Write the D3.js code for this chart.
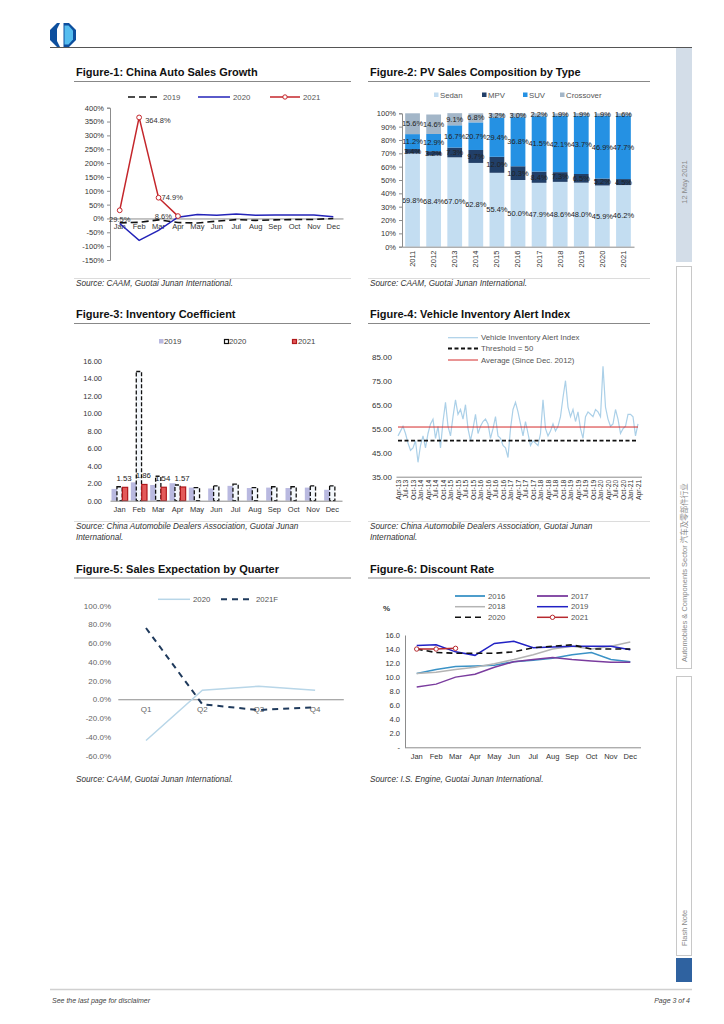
<!DOCTYPE html>
<html>
<head>
<meta charset="utf-8">
<script src="https://cdn.jsdelivr.net/npm/d3@7"></script>
<style>
    body { margin: 0; background: #fff; }
    svg { font-family: "Liberation Sans", Arial, sans-serif; }
    .axis path, .axis line { stroke: #8c8c8c; }
    .axis text { fill: #333; font-size: 7.5px; }
</style>
</head>
<body>
<svg id="page" width="724" height="1024"></svg>
<script>
const months = ['Jan', 'Feb', 'Mar', 'Apr', 'May', 'Jun', 'Jul', 'Aug', 'Sep', 'Oct', 'Nov', 'Dec'];

// Figure-1 (yoy %)
const growthTicks = [400, 350, 300, 250, 200, 150, 100, 50, 0, -50, -100, -150];
const growth2019 = [-15.8, -13.8, -5.2, -14.6, -16.4, -9.6, -4.3, -6.9, -5.2, -4.0, -3.6, 0.1];
const growth2020 = [-18.0, -79.1, -43.3, 4.4, 14.5, 11.6, 16.4, 11.6, 12.8, 12.5, 12.6, 6.4];
const growth2021 = [29.5, 364.8, 74.9, 8.6];

// Figure-2 (share %)
const years = ['2011', '2012', '2013', '2014', '2015', '2016', '2017', '2018', '2019', '2020', '2021'];
const sedanShare = [69.8, 68.4, 67.0, 62.8, 55.4, 50.0, 47.9, 48.6, 48.0, 45.9, 46.2];
const mpvShare = [3.4, 3.2, 7.3, 9.7, 12.0, 10.3, 8.4, 7.3, 6.5, 5.2, 4.5];
const suvShare = [11.2, 12.9, 16.7, 20.7, 29.4, 36.8, 41.5, 42.1, 43.7, 46.9, 47.7];
const crossoverShare = [15.6, 14.6, 9.1, 6.8, 3.2, 3.0, 2.2, 1.9, 1.9, 1.9, 1.6];
const shareTicks = [0, 10, 20, 30, 40, 50, 60, 70, 80, 90, 100];

// Figure-3
const invTicks = [0, 2, 4, 6, 8, 10, 12, 14, 16];
const inv2019 = [1.35, 2.10, 1.80, 2.00, 1.50, 1.40, 1.70, 1.45, 1.50, 1.45, 1.50, 1.25];
const inv2020 = [1.60, 14.80, 2.80, 1.80, 1.50, 1.70, 1.90, 1.50, 1.60, 1.60, 1.70, 1.70];
const inv2021 = [1.53, 1.86, 1.54, 1.57];

// Figure-4 (monthly, Apr-13 .. Apr-21)
const viaTicks = ['Apr-13', 'Jul-13', 'Oct-13', 'Jan-14', 'Apr-14', 'Jul-14', 'Oct-14', 'Jan-15', 'Apr-15', 'Jul-15', 'Oct-15',
    'Jan-16', 'Apr-16', 'Jul-16', 'Oct-16', 'Jan-17', 'Apr-17', 'Jul-17', 'Oct-17', 'Jan-18', 'Apr-18', 'Jul-18', 'Oct-18',
    'Jan-19', 'Apr-19', 'Jul-19', 'Oct-19', 'Jan-20', 'Apr-20', 'Jul-20', 'Oct-20', 'Jan-21', 'Apr-21'];
const viaIndex = [52, 54, 56, 53, 49, 46, 47, 50, 41, 48, 52, 47, 53, 57, 59, 51, 56, 47, 58, 66, 56, 52, 60, 67, 61,
    63, 59, 65, 55, 50, 55, 61, 53, 56, 58, 59, 57, 51, 55, 60, 52, 51, 48, 47, 43, 55, 63, 66, 62, 57, 52, 58, 53, 48,
    50, 49, 48, 53, 67, 55, 52, 54, 57, 54, 56, 60, 68, 75, 64, 60, 63, 58, 62, 55, 51, 60, 62, 61, 60, 63, 62, 60, 81,
    64, 59, 56, 57, 63, 59, 53, 55, 56, 61, 61, 60, 52, 57];
const viaThreshold = 50;
const viaAverage = 55.7;
const viaYTicks = [35, 45, 55, 65, 75, 85];

// Figure-5
const quarters = ['Q1', 'Q2', 'Q3', 'Q4'];
const exp2020 = [-44, 9.6, 13.9, 9.6];
const exp2021F = [76, -5.4, -11.5, -8.5];
const expTicks = [100, 80, 60, 40, 20, 0, -20, -40, -60];

// Figure-6
const disc2016 = [10.5, 11.1, 11.5, 11.6, 11.7, 12.2, 12.4, 12.7, 13.2, 13.5, 12.5, 12.2];
const disc2017 = [8.6, 9.0, 10.0, 10.4, 11.4, 12.2, 12.5, 12.8, 12.5, 12.3, 12.1, 12.1];
const disc2018 = [10.5, 10.7, 11.1, 11.4, 11.9, 12.5, 13.2, 14.0, 14.4, 14.0, 14.4, 15.0];
const disc2019 = [14.5, 14.6, 13.6, 13.1, 14.8, 15.1, 14.2, 14.3, 14.4, 14.4, 14.4, 13.9];
const disc2020 = [14.0, 13.5, 13.4, 13.4, 13.4, 13.6, 14.2, 14.4, 14.6, 14.0, 14.0, 14.0];
const disc2021 = [14.0, 14.0, 14.1];
const discTicks = [0, 2, 4, 6, 8, 10, 12, 14, 16];

const svg = d3.select('#page');

//#region page frame
const logo = svg.append('g').attr('transform', 'translate(50,23)');
logo.append('path').attr('d', 'M7,0 L19,0 L26,7 L26,17 L19,24 L7,24 L0,17 L0,7 Z').attr('fill', '#0d4f9e');
logo.append('path').attr('d', 'M10,0 L13.5,0 L13.5,24 L10,24 L7,18 L7,6 Z').attr('fill', '#fff');
logo.append('path').attr('d', 'M14.5,2.5 L18.5,2.5 L23,7.5 L23,16.5 L18.5,21.5 L14.5,21.5 Z').attr('fill', '#56bdef');

svg.append('line').attr('x1', 50).attr('x2', 692).attr('y1', 47.5).attr('y2', 47.5)
    .attr('stroke', '#555').attr('stroke-width', 1);

const side = svg.append('g');
side.append('rect').attr('x', 676).attr('y', 48).attr('width', 16).attr('height', 214).attr('fill', '#d3dde8');
side.append('rect').attr('x', 676.5).attr('y', 266.5).attr('width', 15).attr('height', 402)
    .attr('fill', '#fff').attr('stroke', '#c8c8c8');
side.append('rect').attr('x', 676.5).attr('y', 676.5).attr('width', 15).attr('height', 279)
    .attr('fill', '#fff').attr('stroke', '#c8c8c8');
side.append('rect').attr('x', 676).attr('y', 958).attr('width', 16).attr('height', 24).attr('fill', '#2f62a0');
side.append('text').attr('transform', 'translate(687,182) rotate(-90)')
    .attr('text-anchor', 'middle').attr('font-size', 7.5).attr('fill', '#8a8a8a').text('12 May 2021');
side.append('text').attr('transform', 'translate(687,662) rotate(-90)')
    .attr('font-size', 7.5).attr('fill', '#8a8a8a')
    .html('Automobiles &amp; Components Sector <tspan font-family="Noto Sans CJK SC">汽车及零部件行业</tspan>');
side.append('text').attr('transform', 'translate(687,946) rotate(-90)')
    .attr('font-size', 7.5).attr('fill', '#8a8a8a').text('Flash Note');

svg.append('line').attr('x1', 50).attr('x2', 692).attr('y1', 989.5).attr('y2', 989.5)
    .attr('stroke', '#d0d0d0').attr('stroke-width', 1.5);
svg.append('text').attr('x', 52).attr('y', 1003).attr('font-size', 7).attr('font-style', 'italic')
    .attr('fill', '#444').text('See the last page for disclaimer');
svg.append('text').attr('x', 690).attr('y', 1003).attr('font-size', 7).attr('font-style', 'italic')
    .attr('text-anchor', 'end').attr('fill', '#444').text('Page 3 of 4');
//#endregion

function panelTitle(x, y, w, label) {
    svg.append('text').attr('x', x).attr('y', y).attr('font-size', 11).attr('font-weight', 'bold')
        .attr('fill', '#111').text(label);
    svg.append('line').attr('x1', x - 2).attr('x2', x - 2 + w).attr('y1', y + 5.5).attr('y2', y + 5.5)
        .attr('stroke', '#6a6a6a').attr('stroke-width', 0.8);
}

function panelSource(x, y, w, lines, rule) {
    if (rule) {
        svg.append('line').attr('x1', x - 2).attr('x2', x - 2 + w).attr('y1', y - 7.5).attr('y2', y - 7.5)
            .attr('stroke', '#dcdcdc').attr('stroke-width', 1);
    }
    lines.forEach((l, i) => {
        svg.append('text').attr('x', x).attr('y', y + i * 10.5).attr('font-size', 8.2)
            .attr('font-style', 'italic').attr('fill', '#333').text(l);
    });
}

function legendLine(g, x, y, len, color, dash, width, label, marker) {
    g.append('line').attr('x1', x).attr('x2', x + len).attr('y1', y).attr('y2', y)
        .attr('stroke', color).attr('stroke-width', width).attr('stroke-dasharray', dash);
    if (marker) {
        g.append('circle').attr('cx', x + len / 2).attr('cy', y).attr('r', 2.2)
            .attr('fill', '#fff').attr('stroke', color).attr('stroke-width', 1);
    }
    g.append('text').attr('x', x + len + 3).attr('y', y).attr('dy', '0.33em')
        .attr('font-size', 7.8).attr('fill', '#555').text(label);
}

//#region Figure-1
(function () {
    panelTitle(76, 76, 277, 'Figure-1: China Auto Sales Growth');
    const g = svg.append('g');
    const x = d3.scaleBand().domain(months).range([110, 343]);
    const y = d3.scaleLinear().domain([-150, 400]).range([260, 107.7]);
    const cx = i => x(months[i]) + x.bandwidth() / 2;

    g.append('g').classed('axis', true).attr('transform', 'translate(110,0)')
        .call(d3.axisLeft(y).tickValues(growthTicks).tickFormat(d => d + '%').tickSize(3).tickPadding(3));
    g.append('g').classed('axis', true).attr('transform', `translate(0,${y(0)})`)
        .call(d3.axisBottom(x).tickSize(0).tickPadding(5));

    const line = d3.line().x((d, i) => cx(i)).y(d => y(d));
    g.append('path').attr('d', line(growth2019)).attr('fill', 'none').attr('stroke', '#111')
        .attr('stroke-width', 1.6).attr('stroke-dasharray', '7,4');
    g.append('path').attr('d', line(growth2020)).attr('fill', 'none').attr('stroke', '#2323b8')
        .attr('stroke-width', 1.5);
    g.append('path').attr('d', line(growth2021)).attr('fill', 'none').attr('stroke', '#c4262b')
        .attr('stroke-width', 1.5);
    g.selectAll('.pt').data(growth2021).enter().append('circle')
        .attr('cx', (d, i) => cx(i)).attr('cy', d => y(d)).attr('r', 2.4)
        .attr('fill', '#fff').attr('stroke', '#c4262b').attr('stroke-width', 1);

    const lblOffset = [[0, 9], [6, 3], [3, 0], [-6, 0]];
    const lblAnchor = ['middle', 'start', 'start', 'end'];
    g.selectAll('.lbl').data(growth2021).enter().append('text')
        .attr('x', (d, i) => cx(i) + lblOffset[i][0]).attr('y', (d, i) => y(d) + lblOffset[i][1])
        .attr('dy', '0.33em').attr('text-anchor', (d, i) => lblAnchor[i])
        .attr('font-size', 7.5).attr('fill', '#333').text(d => d.toFixed(1) + '%');

    legendLine(g, 128, 97, 32, '#111', '7,4', 1.6, '2019');
    legendLine(g, 198, 97, 32, '#2323b8', null, 1.5, '2020');
    legendLine(g, 270, 97, 30, '#c4262b', null, 1.5, '2021', true);

    panelSource(76, 286, 277, ['Source: CAAM, Guotai Junan International.'], true);
})();
//#endregion

//#region Figure-2
(function () {
    panelTitle(370, 76, 282, 'Figure-2: PV Sales Composition by Type');
    const g = svg.append('g');
    const keys = ['Sedan', 'MPV', 'SUV', 'Crossover'];
    const colors = { Sedan: '#c3ddf1', MPV: '#213f68', SUV: '#2591e3', Crossover: '#a3b6c8' };
    const rows = years.map((yr, i) => ({
        year: yr, Sedan: sedanShare[i], MPV: mpvShare[i], SUV: suvShare[i], Crossover: crossoverShare[i]
    }));
    const series = d3.stack().keys(keys)(rows);

    const x = d3.scaleBand().domain(years).range([402, 634]).paddingInner(0.3).paddingOuter(0.15);
    const y = d3.scaleLinear().domain([0, 100]).range([246.7, 113.3]);

    const layer = g.selectAll('.layer').data(series).enter().append('g').attr('fill', d => colors[d.key]);
    layer.selectAll('rect').data(d => d).enter().append('rect')
        .attr('x', d => x(d.data.year)).attr('width', x.bandwidth())
        .attr('y', d => y(d[1])).attr('height', d => y(d[0]) - y(d[1]));
    g.selectAll('.layerLbl').data(series).enter().append('g')
        .selectAll('text').data(d => d).enter().append('text')
        .attr('x', d => x(d.data.year) + x.bandwidth() / 2).attr('y', d => y((d[0] + d[1]) / 2))
        .attr('dy', '0.33em').attr('text-anchor', 'middle').attr('font-size', 7.5).attr('fill', '#222')
        .text(d => (d[1] - d[0]).toFixed(1) + '%');

    g.append('g').classed('axis', true).attr('transform', 'translate(402,0)')
        .call(d3.axisLeft(y).tickValues(shareTicks).tickFormat(d => d + '%').tickSize(3).tickPadding(3));
    const xa = g.append('g').classed('axis', true).attr('transform', `translate(0,${y(0)})`)
        .call(d3.axisBottom(x).tickSize(0));
    xa.selectAll('text').attr('transform', 'rotate(-90)').attr('x', -4).attr('y', 0)
        .attr('dy', '0.33em').style('text-anchor', 'end');

    const lx = [434, 482, 523, 560];
    keys.forEach((k, i) => {
        g.append('rect').attr('x', lx[i]).attr('y', 92.5).attr('width', 4.5).attr('height', 4.5).attr('fill', colors[k]);
        g.append('text').attr('x', lx[i] + 6).attr('y', 95).attr('dy', '0.33em').attr('font-size', 7.8)
            .attr('fill', '#555').text(k);
    });

    panelSource(370, 286, 282, ['Source: CAAM, Guotai Junan International.'], true);
})();
//#endregion

//#region Figure-3
(function () {
    panelTitle(76, 318, 277, 'Figure-3: Inventory Coefficient');
    const g = svg.append('g');
    const x = d3.scaleBand().domain(months).range([110, 342]);
    const sub = d3.scaleBand().domain(['2019', '2020', '2021']).range([1.5, x.bandwidth() - 1.5]);
    const y = d3.scaleLinear().domain([0, 16]).range([500.7, 361]);
    const bw = sub.bandwidth() * 1.15;

    g.append('g').classed('axis', true).attr('transform', 'translate(110,0)')
        .call(d3.axisLeft(y).tickValues(invTicks).tickFormat(d3.format('.2f')).tickSize(0).tickPadding(8))
        .select('.domain').remove();

    g.selectAll('.b19').data(inv2019).enter().append('rect')
        .attr('x', (d, i) => x(months[i]) + sub('2019')).attr('width', bw)
        .attr('y', d => y(d)).attr('height', d => y(0) - y(d)).attr('fill', '#b9b9e0');
    g.selectAll('.b20').data(inv2020).enter().append('rect')
        .attr('x', (d, i) => x(months[i]) + sub('2020')).attr('width', bw - 1)
        .attr('y', d => y(d)).attr('height', d => y(0) - y(d))
        .attr('fill', '#f4f8fc').attr('stroke', '#111').attr('stroke-width', 1.3).attr('stroke-dasharray', '4,2');
    g.selectAll('.b21').data(inv2021).enter().append('rect')
        .attr('x', (d, i) => x(months[i]) + sub('2021')).attr('width', bw - 1)
        .attr('y', d => y(d)).attr('height', d => y(0) - y(d))
        .attr('fill', '#e35a5a').attr('stroke', '#b0191c').attr('stroke-width', 1.2);
    g.selectAll('.l21').data(inv2021).enter().append('text')
        .attr('x', (d, i) => x(months[i]) + sub('2021') + bw / 2 - 1.5).attr('y', d => y(d) - 6)
        .attr('text-anchor', 'middle').attr('font-size', 7.8).attr('fill', '#222').text(d => d.toFixed(2));

    g.append('g').classed('axis', true).attr('transform', `translate(0,${y(0)})`)
        .call(d3.axisBottom(x).tickSize(0).tickPadding(6));

    g.append('rect').attr('x', 159).attr('y', 339).attr('width', 4.5).attr('height', 4.5).attr('fill', '#b9b9e0');
    g.append('text').attr('x', 164).attr('y', 341.3).attr('dy', '0.33em').attr('font-size', 7.8).attr('fill', '#444').text('2019');
    g.append('rect').attr('x', 224.5).attr('y', 339.5).attr('width', 4).attr('height', 4)
        .attr('fill', '#fff').attr('stroke', '#111').attr('stroke-width', 1.2);
    g.append('text').attr('x', 229).attr('y', 341.3).attr('dy', '0.33em').attr('font-size', 7.8).attr('fill', '#444').text('2020');
    g.append('rect').attr('x', 292.5).attr('y', 339.5).attr('width', 4).attr('height', 4)
        .attr('fill', '#e35a5a').attr('stroke', '#b0191c').attr('stroke-width', 1.2);
    g.append('text').attr('x', 298).attr('y', 341.3).attr('dy', '0.33em').attr('font-size', 7.8).attr('fill', '#444').text('2021');

    panelSource(76, 529, 277, ['Source: China Automobile Dealers Association, Guotai Junan', 'International.'], true);
})();
//#endregion

//#region Figure-4
(function () {
    panelTitle(370, 318, 282, 'Figure-4: Vehicle Inventory Alert Index');
    const g = svg.append('g');
    const x = d3.scalePoint().domain(d3.range(viaIndex.length)).range([398, 638]);
    const y = d3.scaleLinear().domain([35, 85]).range([476.7, 356.7]);

    const ya = g.append('g').classed('axis', true).attr('transform', 'translate(395,0)')
        .call(d3.axisLeft(y).tickValues(viaYTicks).tickFormat(d3.format('.2f')).tickSize(0).tickPadding(3));
    ya.select('.domain').remove();
    ya.selectAll('text').style('font-size', '8px');

    const xa = g.append('g').classed('axis', true).attr('transform', `translate(0,${y(35)})`)
        .call(d3.axisBottom(x).tickValues(viaTicks.map((t, k) => k * 3)).tickFormat(d => viaTicks[d / 3])
            .tickSize(0).tickSizeOuter(0));
    xa.select('.domain').attr('d', 'M396.5,0.5H642');
    xa.selectAll('text').attr('transform', 'rotate(-90)').attr('x', -3).attr('y', 0)
        .attr('dy', '0.33em').style('text-anchor', 'end').style('font-size', '6.8px');

    g.append('path').attr('d', d3.line().x((d, i) => x(i)).y(d => y(d))(viaIndex))
        .attr('fill', 'none').attr('stroke', '#abd0e8').attr('stroke-width', 1.2);
    g.append('line').attr('x1', x(0)).attr('x2', x(viaIndex.length - 1))
        .attr('y1', y(viaAverage)).attr('y2', y(viaAverage)).attr('stroke', '#d42a2a').attr('stroke-width', 1);
    g.append('line').attr('x1', x(0)).attr('x2', x(viaIndex.length - 1))
        .attr('y1', y(viaThreshold)).attr('y2', y(viaThreshold)).attr('stroke', '#111')
        .attr('stroke-width', 1.8).attr('stroke-dasharray', '4,2.5');

    legendLine(g, 448, 337.7, 30, '#abd0e8', null, 1.2, 'Vehicle Inventory Alert Index');
    legendLine(g, 448, 348.5, 30, '#111', '4,2.5', 1.8, 'Threshold = 50');
    legendLine(g, 448, 360, 30, '#d42a2a', null, 1, 'Average (Since Dec. 2012)');

    panelSource(370, 529, 282, ['Source: China Automobile Dealers Association, Guotai Junan', 'International.'], true);
})();
//#endregion

//#region Figure-5
(function () {
    panelTitle(76, 572.5, 277, 'Figure-5: Sales Expectation by Quarter');
    const g = svg.append('g');
    const x = d3.scaleBand().domain(quarters).range([117.8, 343.3]);
    const y = d3.scaleLinear().domain([-60, 100]).range([755.5, 605.5]);
    const cx = i => x(quarters[i]) + x.bandwidth() / 2;

    const ya = g.append('g').classed('axis', true).attr('transform', 'translate(111,0)')
        .call(d3.axisLeft(y).tickValues(expTicks).tickFormat(d => d.toFixed(1) + '%').tickSize(0).tickPadding(0));
    ya.select('.domain').remove();
    ya.selectAll('text').style('font-size', '8px').style('fill', '#666');
    const xa = g.append('g').classed('axis', true).attr('transform', `translate(0,${y(0)})`)
        .call(d3.axisBottom(x).tickSize(0).tickPadding(7).tickSizeOuter(0));
    xa.select('.domain').attr('stroke', '#d9d9d9');
    xa.selectAll('text').style('font-size', '8px').style('fill', '#666');

    const line = d3.line().x((d, i) => cx(i)).y(d => y(d));
    g.append('path').attr('d', line(exp2020)).attr('fill', 'none').attr('stroke', '#b8d6e8').attr('stroke-width', 1.5);
    g.append('path').attr('d', line(exp2021F)).attr('fill', 'none').attr('stroke', '#1f3a5c')
        .attr('stroke-width', 2).attr('stroke-dasharray', '6,5');

    legendLine(g, 158, 599.3, 32, '#b8d6e8', null, 1.5, '2020');
    legendLine(g, 221, 599.3, 32, '#1f3a5c', '6,5', 2, '2021F');

    panelSource(76, 782, 277, ['Source: CAAM, Guotai Junan International.'], false);
})();
//#endregion

//#region Figure-6
(function () {
    panelTitle(370, 572.5, 282, 'Figure-6: Discount Rate');
    const g = svg.append('g');
    const x = d3.scaleBand().domain(months).range([407, 640]);
    const y = d3.scaleLinear().domain([0, 16]).range([747.3, 635]);
    const cx = i => x(months[i]) + x.bandwidth() / 2;

    g.append('g').classed('axis', true).attr('transform', 'translate(405,0)')
        .call(d3.axisLeft(y).tickValues(discTicks).tickFormat(d => d === 0 ? '-' : d.toFixed(1)).tickSize(0).tickPadding(5))
        .select('.domain').attr('stroke', '#d0d0d0');
    const xa = g.append('g').classed('axis', true).attr('transform', `translate(0,${y(0)})`)
        .call(d3.axisBottom(x).tickSize(0).tickPadding(6).tickSizeOuter(0));
    xa.select('.domain').attr('d', 'M405,0.5H641').attr('stroke', '#c8c8c8');

    const line = d3.line().x((d, i) => cx(i)).y(d => y(d));
    const discSeries = [
        { data: disc2016, color: '#3a92c6', dash: null, w: 1.5 },
        { data: disc2017, color: '#7a3c9e', dash: null, w: 1.5 },
        { data: disc2018, color: '#b4b4b4', dash: null, w: 1.5 },
        { data: disc2019, color: '#2121c4', dash: null, w: 1.5 },
        { data: disc2020, color: '#111', dash: '6,4', w: 1.6 },
        { data: disc2021, color: '#b7292e', dash: null, w: 1.5 }
    ];
    discSeries.forEach(s => {
        g.append('path').attr('d', line(s.data)).attr('fill', 'none').attr('stroke', s.color)
            .attr('stroke-width', s.w).attr('stroke-dasharray', s.dash);
    });
    g.selectAll('.pt').data(disc2021).enter().append('circle')
        .attr('cx', (d, i) => cx(i)).attr('cy', d => y(d)).attr('r', 2.2)
        .attr('fill', '#fff').attr('stroke', '#b7292e').attr('stroke-width', 1);

    g.append('text').attr('x', 383).attr('y', 608).attr('dy', '0.33em').attr('font-size', 8)
        .attr('font-weight', 'bold').attr('fill', '#333').text('%');
    legendLine(g, 455, 596, 30, '#3a92c6', null, 1.8, '2016');
    legendLine(g, 537, 596, 31, '#7a3c9e', null, 1.8, '2017');
    legendLine(g, 455, 606.7, 30, '#b4b4b4', null, 1.5, '2018');
    legendLine(g, 537, 606.7, 31, '#2121c4', null, 1.5, '2019');
    legendLine(g, 455, 617.3, 30, '#111', '6,4', 1.6, '2020');
    legendLine(g, 537, 617.3, 31, '#b7292e', null, 1.5, '2021', true);

    panelSource(370, 782, 282, ['Source: I.S. Engine, Guotai Junan International.'], false);
})();
//#endregion
</script>
</body>
</html>
